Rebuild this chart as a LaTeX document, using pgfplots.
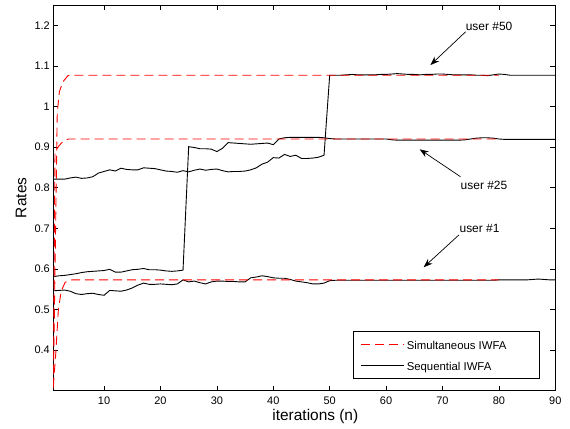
\documentclass[border=0pt]{standalone}
\usepackage{fontspec}
\setmainfont{Liberation Sans}
\usepackage{pgfplots}
\pgfplotsset{compat=1.18}
\usepackage{pgfplotstable}
\usetikzlibrary{arrows.meta}

\pgfplotstableread{
n v
1 0.821
2 0.821
3 0.821
4 0.824
5 0.826
6 0.823
7 0.824
8 0.827
9 0.836
10 0.840
11 0.844
12 0.841
13 0.848
14 0.845
15 0.844
16 0.844
17 0.849
18 0.848
19 0.847
20 0.844
21 0.841
22 0.840
23 0.838
24 0.842
25 0.839
26 0.843
27 0.846
28 0.843
29 0.845
30 0.846
31 0.842
32 0.839
33 0.840
34 0.840
35 0.841
36 0.844
37 0.849
38 0.858
39 0.863
40 0.874
41 0.873
42 0.882
43 0.877
44 0.880
45 0.872
46 0.872
47 0.873
48 0.875
49 0.880
50 1.077
51 1.077
52 1.077
53 1.078
54 1.079
55 1.078
56 1.078
57 1.078
58 1.078
59 1.079
60 1.079
61 1.080
62 1.081
63 1.080
64 1.079
65 1.079
66 1.078
67 1.079
68 1.079
69 1.080
70 1.080
71 1.079
72 1.078
73 1.078
74 1.078
75 1.078
76 1.077
77 1.077
78 1.076
79 1.078
80 1.080
81 1.079
82 1.077
83 1.077
84 1.077
85 1.077
86 1.077
87 1.077
88 1.077
89 1.077
90 1.077
}\seqfifty

\pgfplotstableread{
n v
1 0.581
2 0.583
3 0.584
4 0.586
5 0.588
6 0.591
7 0.593
8 0.594
9 0.595
10 0.596
11 0.599
12 0.592
13 0.592
14 0.595
15 0.598
16 0.599
17 0.601
18 0.598
19 0.598
20 0.597
21 0.595
22 0.594
23 0.595
24 0.597
25 0.901
26 0.899
27 0.896
28 0.896
29 0.895
30 0.889
31 0.897
32 0.911
33 0.910
34 0.909
35 0.908
36 0.907
37 0.908
38 0.909
39 0.910
40 0.906
41 0.920
42 0.923
43 0.924
44 0.924
45 0.924
46 0.924
47 0.924
48 0.924
49 0.923
50 0.921
51 0.920
52 0.920
53 0.920
54 0.920
55 0.920
56 0.920
57 0.920
58 0.920
59 0.920
60 0.920
61 0.918
62 0.917
63 0.917
64 0.917
65 0.917
66 0.917
67 0.917
68 0.917
69 0.917
70 0.917
71 0.917
72 0.917
73 0.917
74 0.918
75 0.920
76 0.922
77 0.923
78 0.923
79 0.922
80 0.920
81 0.919
82 0.919
83 0.919
84 0.919
85 0.919
86 0.919
87 0.919
88 0.919
89 0.919
90 0.919
}\seqtwentyfive

\pgfplotstableread{
n v
1 0.546
2 0.547
3 0.548
4 0.545
5 0.539
6 0.537
7 0.539
8 0.540
9 0.537
10 0.535
11 0.547
12 0.546
13 0.545
14 0.548
15 0.553
16 0.560
17 0.565
18 0.562
19 0.562
20 0.563
21 0.562
22 0.561
23 0.563
24 0.573
25 0.568
26 0.570
27 0.566
28 0.563
29 0.568
30 0.570
31 0.570
32 0.569
33 0.569
34 0.568
35 0.568
36 0.578
37 0.580
38 0.583
39 0.581
40 0.578
41 0.577
42 0.577
43 0.574
44 0.570
45 0.568
46 0.566
47 0.563
48 0.563
49 0.565
50 0.571
51 0.572
52 0.572
53 0.572
54 0.572
55 0.572
56 0.572
57 0.572
58 0.572
59 0.572
60 0.572
61 0.572
62 0.572
63 0.572
64 0.572
65 0.572
66 0.572
67 0.572
68 0.572
69 0.572
70 0.572
71 0.572
72 0.572
73 0.572
74 0.572
75 0.572
76 0.572
77 0.572
78 0.572
79 0.572
80 0.573
81 0.573
82 0.573
83 0.573
84 0.573
85 0.573
86 0.574
87 0.575
88 0.574
89 0.573
90 0.573
}\seqone

\pgfplotstableread{
n v
1 0.305
1.7 0.984
2.07 1.036
2.7 1.061
3.6 1.076
4.5 1.077
80 1.077
}\simfifty

\pgfplotstableread{
n v
1 0.31
1.3 0.885
1.6 0.895
2 0.903
2.5 0.911
3 0.916
3.7 0.920
80 0.920
}\simtwentyfive

\pgfplotstableread{
n v
1 0.31
1.43 0.39
1.9 0.50
2.4 0.545
3.1 0.567
4.3 0.573
80 0.573
}\simone

\begin{document}
\begin{tikzpicture}
\useasboundingbox (-53.3bp,-38.3bp) rectangle (516.7bp,390.7bp);
\begin{axis}[
  at={(0,0)}, anchor=south west,
  width=502bp, height=385.7bp, scale only axis,
  xmin=1, xmax=90, ymin=0.3, ymax=1.25,
  xtick={10,20,30,40,50,60,70,80,90},
  ytick={0.4,0.5,0.6,0.7,0.8,0.9,1,1.1,1.2},
  tick align=inside,
  major tick length=5bp,
  tick style={black, line width=0.7bp},
  axis line style={black, line width=0.8bp},
  /pgf/number format/assume math mode=true,
  tick label style={font=\fontsize{11}{13}\selectfont},
  xticklabel style={yshift=-2.5bp},
  xlabel={iterations (n)},
  ylabel={Rates},
  label style={font=\fontsize{15.5}{18}\selectfont},
  xlabel style={at={(axis description cs:0.522,-0.0674)}, anchor=center},
  ylabel style={at={(axis description cs:-0.0643,0.5)}, anchor=center},
  legend cell align=left,
  legend image code/.code={\draw[#1] (0bp,0bp) -- (43bp,0bp);},
  legend style={at={(axis description cs:0.9695,0.0296)}, anchor=south east,
    draw=black, line width=0.8bp, fill=white,
    font=\fontsize{11.4}{13}\selectfont,
    inner xsep=7bp, inner ysep=5bp, row sep=4.6bp},
]
\addlegendimage{legend image code/.code={\draw[color=red, line width=0.9bp, dash pattern=on 9bp off 5bp] (0bp,0bp) -- (43bp,0bp);}}
\addlegendentry{\makebox[123.8bp][l]{\rule[-3.35bp]{0pt}{14.1bp}Simultaneous IWFA}}
\addlegendimage{black, line width=0.9bp}
\addlegendentry{\rule[-3.35bp]{0pt}{14.1bp}Sequential IWFA}

\addplot[black, line width=0.9bp, forget plot] table[x=n,y=v] {\seqfifty};
\addplot[black, line width=0.9bp, forget plot] table[x=n,y=v] {\seqtwentyfive};
\addplot[black, line width=0.9bp, forget plot] table[x=n,y=v] {\seqone};
\addplot[red, line width=0.9bp, dash pattern=on 9bp off 5bp, forget plot] table[x=n,y=v] {\simfifty};
\addplot[red, line width=0.9bp, dash pattern=on 9bp off 5bp, forget plot] table[x=n,y=v] {\simtwentyfive};
\addplot[red, line width=0.9bp, dash pattern=on 9bp off 5bp, forget plot] table[x=n,y=v] {\simone};

\node[anchor=west, inner sep=0pt, font=\fontsize{12}{14}\selectfont] at (axis cs:74.1,1.198) {user \#50};
\draw[-{Stealth[length=9bp,width=6.5bp]}, line width=0.7bp] (axis cs:74.1,1.184) -- (axis cs:67.85,1.102);
\node[anchor=west, inner sep=0pt, font=\fontsize{12}{14}\selectfont] at (axis cs:73.2,0.8066) {user \#25};
\draw[-{Stealth[length=9bp,width=6.5bp]}, line width=0.7bp] (axis cs:73.2,0.827) -- (axis cs:65.95,0.8946);
\node[anchor=west, inner sep=0pt, font=\fontsize{12}{14}\selectfont] at (axis cs:73.0,0.700) {user \#1};
\draw[-{Stealth[length=9bp,width=6.5bp]}, line width=0.7bp] (axis cs:72.9,0.6835) -- (axis cs:66.66,0.604);
\end{axis}
\end{tikzpicture}
\end{document}
